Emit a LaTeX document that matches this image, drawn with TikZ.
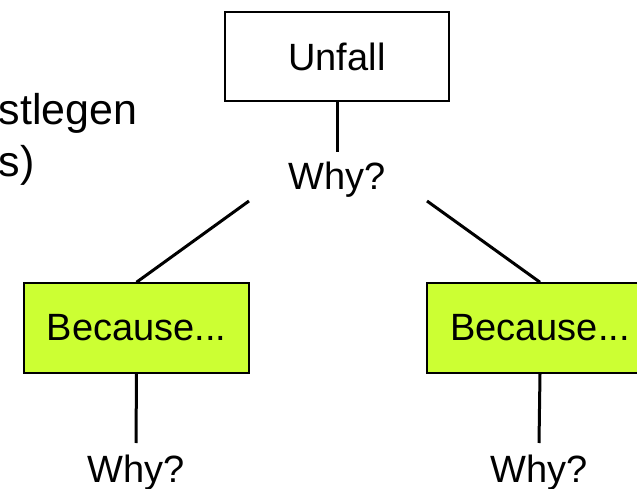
\documentclass[tikz,border=0pt]{standalone}
\usepackage{fontspec}
\setmainfont{Liberation Sans}
\usetikzlibrary{positioning}
\definecolor{causegreen}{HTML}{CCFF33}

\begin{document}
\begin{tikzpicture}[x=1pt,y=-1pt,font=\fontsize{38}{45}\selectfont]
    \tikzset{
        eventbox/.style={draw,line width=1.5pt,minimum width=224pt,minimum height=89pt,inner sep=0pt},
        causebox/.style={eventbox,fill=causegreen,minimum width=225pt,minimum height=90pt},
        why/.style={anchor=base,inner sep=0pt},
        link/.style={line width=3pt}
    }
    \useasboundingbox (0,0) rectangle (637,489);
    \clip (0,0) rectangle (637,489);

    %======================================================
    % cut-off text on the left
    %======================================================
    \node[anchor=base west,inner sep=0pt,font=\fontsize{43}{50}\selectfont] (txtA) at (-1.5,125) {stlegen};
    \node[anchor=base west,inner sep=0pt,font=\fontsize{43}{50}\selectfont] (txtB) at (-1.5,177) {s)};

    %======================================================
    % top: event
    %======================================================
    \node[eventbox] (unfall) at (337,56.5) {Unfall};
    \node[why] (why0) at (337,190) {Why?};
    \draw[link] (unfall.south) -- (337,152) coordinate (w0top);

    % branch points below the first Why?
    \coordinate (w0l) at (249,201);
    \coordinate (w0r) at (427,201);

    %======================================================
    % two causes
    %======================================================
    \node[causebox] (causeL) at (136.5,328) {Because...};
    \node[causebox,minimum width=226pt] (causeR) at (540,328) {Because...};

    \draw[link] (w0l) -- (causeL.north);
    \draw[link] (w0r) -- (causeR.north);

    % next level of Why?
    \node[why] (whyL) at (136,482) {Why?};
    \node[why] (whyR) at (539,482) {Why?};

    \foreach \c/\x in {causeL/136,causeR/539}{
        \draw[link] (\c.south) -- (\x,443);
    }
\end{tikzpicture}
\end{document}
